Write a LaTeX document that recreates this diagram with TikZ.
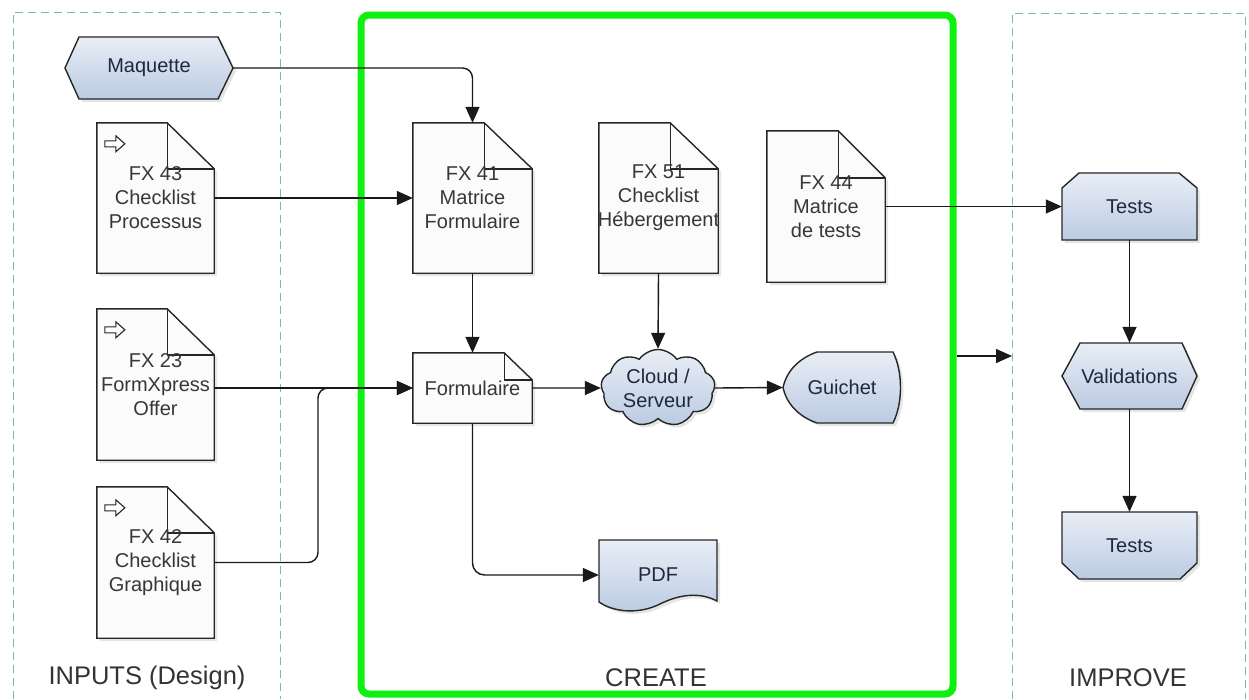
\documentclass[tikz,border=0pt]{standalone}
\usepackage{fontspec}
\setmainfont{Liberation Sans}
\usetikzlibrary{arrows.meta,shapes.symbols,shadows}
\pgfdeclarelayer{background}
\pgfdeclarelayer{bottom}
\pgfsetlayers{bottom,background,main}
\definecolor{bluetop}{RGB}{232,238,246}
\definecolor{bluebot}{RGB}{188,203,226}
\definecolor{bluetxt}{RGB}{30,40,62}
\definecolor{doctxt}{RGB}{55,55,55}
\definecolor{docfill}{RGB}{251,251,251}
\definecolor{lanec}{RGB}{110,195,150}
\definecolor{bright}{RGB}{16,240,16}
\tikzset{
  base/.style={inner sep=0pt, font=\fontsize{20}{24}\selectfont, align=center},
  docnode/.style={base, text=doctxt},
  bluenode/.style={base, text=bluetxt},
  conn/.style={line width=1.4pt, draw=black!90, -{Triangle[length=16pt,width=14pt]}},
  outline/.style={line width=1.4pt, draw=black!85},
  docshape/.style={outline, fill=docfill,
     drop shadow={opacity=0.2, shadow xshift=3pt, shadow yshift=-3pt}},
  blueshape/.style={outline, top color=bluetop, bottom color=bluebot,
     drop shadow={opacity=0.2, shadow xshift=3pt, shadow yshift=-3pt}},
  lane/.style={draw=lanec, line width=1pt, dash pattern=on 8pt off 5pt},
  lanelabel/.style={inner sep=0pt, font=\fontsize{25.5}{30}\selectfont, text=black!80},
  icon/.style={draw=black!85, line width=1.1pt, fill=white, line join=miter}
}
% document shape: node name, fold width, fold height
\newcommand\docshp[3]{%
  \path[docshape] (#1.north west) -- ([shift={(-#2,0)}]#1.north east)
     -- ([shift={(0,#3)}]#1.north east) -- (#1.south east) -- (#1.south west) -- cycle;
  \draw[outline] ([shift={(-#2,0)}]#1.north east) -- ([shift={(-#2,#3)}]#1.north east)
     -- ([shift={(0,#3)}]#1.north east);
}
\newcommand\inicon[1]{%
  \draw[icon] ([shift={(8,18)}]#1.north west) -- ++(11,0) -- ++(0,-5) -- ++(9,8)
     -- ++(-9,8) -- ++(0,-5) -- ++(-11,0) -- cycle;
}
\begin{document}
\begin{tikzpicture}[x=1pt,y=-1pt]
\useasboundingbox (0,0) rectangle (1249,699);
\begin{pgfonlayer}{bottom}
\fill[white] (0,0) rectangle (1249,699);
% lanes
\draw[lane] (13,699) -- (13,12) -- (280,12) -- (280,699);
\draw[lane] (1012,699) -- (1012,13) -- (1245,13) -- (1245,699);
\draw[bright, line width=7pt, rounded corners=8] (361,15) rectangle (953,694);
\end{pgfonlayer}

% nodes
\node[bluenode, minimum width=168pt, minimum height=62pt] (maq) at (149,68) {Maquette};
\node[docnode, minimum width=117pt, minimum height=150pt] (fx43) at (155.5,198) {FX 43\\Checklist\\Processus};
\node[docnode, minimum width=117pt, minimum height=151pt] (fx23) at (155.5,384.5) {FX 23\\FormXpress\\Offer};
\node[docnode, minimum width=117pt, minimum height=151pt] (fx42) at (155.5,562.5) {FX 42\\Checklist\\Graphique};
\node[docnode, minimum width=119pt, minimum height=150pt] (fx41) at (472.5,198) {FX 41\\Matrice\\Formulaire};
\node[docnode, minimum width=119pt, minimum height=150pt] (fx51) at (658.5,198) {FX 51\\Checklist\\\makebox[100pt][c]{Hébergement}};
\node[docnode, minimum width=118pt, minimum height=151pt] (fx44) at (826,206.5) {FX 44\\Matrice\\de tests};
\node[docnode, minimum width=119pt, minimum height=70pt] (form) at (472.5,388) {Formulaire};
\node[cloud, cloud puffs=9, cloud puff arc=110, aspect=1.48, minimum width=114pt,
      minimum height=77pt, inner sep=0pt, outline, top color=bluetop, bottom color=bluebot,
      drop shadow={opacity=0.2, shadow xshift=3pt, shadow yshift=-3pt}] (cloud) at (658,388) {};
\node[bluenode] (cloudtxt) at (cloud.center) {Cloud /\\Serveur};
\node[bluenode, minimum width=118pt, minimum height=71pt] (guichet) at (842,387.5) {Guichet};
\node[bluenode, minimum width=118pt, minimum height=70pt] (pdf) at (658,575) {PDF};
\node[bluenode, minimum width=135pt, minimum height=67pt] (tests1) at (1129.5,206.5) {Tests};
\node[bluenode, minimum width=135pt, minimum height=66pt] (valid) at (1129.5,376) {Validations};
\node[bluenode, minimum width=135pt, minimum height=67pt] (tests2) at (1129.5,545.5) {Tests};

\node[lanelabel] (linputs) at (147,678) {INPUTS (Design)};
\node[lanelabel] (lcreate) at (656,678) {CREATE};
\node[lanelabel] (limprove) at (1128,678) {IMPROVE};

% shapes behind texts
\begin{pgfonlayer}{background}
  \path[blueshape] (65,68) -- (79,37) -- (218,37) -- (233,68) -- (218,99) -- (79,99) -- cycle;
  \docshp{fx43}{47}{46}
  \docshp{fx23}{47}{46}
  \docshp{fx42}{47}{46}
  \docshp{fx41}{48}{46}
  \docshp{fx51}{48}{46}
  \docshp{fx44}{47}{47}
  \docshp{form}{28}{27}
  \path[blueshape] (817,352) -- (893,352) .. controls (903,372) and (903,403) .. (893,423)
     -- (817,423) .. controls (797,416) and (786,402) .. (783,387.5)
     .. controls (786,373) and (797,359) .. (817,352) -- cycle;
  \path[blueshape] (599,540) -- (717,540) -- (717,601)
     .. controls (700,592) and (680,594) .. (660,604)
     .. controls (640,614) and (615,613) .. (599,602) -- cycle;
  \path[blueshape] (1062,188) -- (1079,173) -- (1179,173) -- (1197,188) -- (1197,240) -- (1062,240) -- cycle;
  \path[blueshape] (1062,376) -- (1080,343) -- (1182,343) -- (1197,376) -- (1182,409) -- (1080,409) -- cycle;
  \path[blueshape] (1062,512) -- (1197,512) -- (1197,563) -- (1180,579) -- (1079,579) -- (1062,563) -- cycle;
\end{pgfonlayer}
\inicon{fx43}
\inicon{fx23}
\inicon{fx42}

% connectors
\coordinate (j) at (318,388);
\coordinate (cr) at (957,356);
\coordinate (imp) at (1012,356);
\draw[conn, rounded corners=10] (maq.east) -| (fx41.north);
\draw[conn] (fx43.east) -- (fx41.west);
\draw[conn] (fx23.east |- form.west) -- (form.west);
\draw[conn, rounded corners=10] (fx42.east) -| (j) -- (form.west);
\draw[conn] (fx41.south) -- (form.north);
\draw[conn] (fx51.south) -- (cloud.north);
\draw[conn] (form.east) -- (cloud.west);
\draw[conn] (cloud.east) -- (guichet.west);
\draw[conn, rounded corners=12] (form.south) |- (pdf.west);
\draw[conn] (fx44.east) -- (tests1.west);
\draw[conn] (tests1.south) -- (valid.north);
\draw[conn] (valid.south) -- (tests2.north);
\draw[conn] (cr) -- (imp);
\end{tikzpicture}
\end{document}
